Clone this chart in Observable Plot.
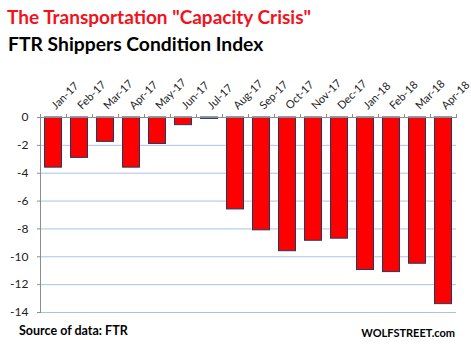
<!DOCTYPE html>
<html>
<head>
<meta charset="utf-8">
<script src="https://cdn.jsdelivr.net/npm/d3@7"></script>
<script src="https://cdn.jsdelivr.net/npm/@observablehq/plot@0.6"></script>
<style>
  html, body { margin: 0; padding: 0; background: #fff; }
  #wrap { position: relative; width: 471px; height: 355px; font-family: Lato, "Open Sans", sans-serif; overflow: hidden; }
  #title { position: absolute; left: 7px; top: 5px; font-size: 19px; font-weight: bold; color: #f2121b; white-space: nowrap; }
  #subtitle { position: absolute; left: 8px; top: 32px; font-size: 19.3px; font-weight: bold; color: #000; white-space: nowrap; }
  #chart { position: absolute; left: 0; top: 60px; }
  #source { position: absolute; left: 19px; top: 323px; font-size: 12.5px; font-weight: bold; color: #000; }
  #brand { position: absolute; right: 16px; top: 326px; font-size: 11px; font-weight: bold; color: #000; }
</style>
</head>
<body>
<div id="wrap">
  <div id="title">The Transportation "Capacity Crisis"</div>
  <div id="subtitle">FTR Shippers Condition Index</div>
  <div id="chart"></div>
  <div id="source">Source of data: FTR</div>
  <div id="brand">WOLFSTREET.com</div>
</div>
<script>
const months = ["Jan-17","Feb-17","Mar-17","Apr-17","May-17","Jun-17","Jul-17","Aug-17","Sep-17","Oct-17","Nov-17","Dec-17","Jan-18","Feb-18","Mar-18","Apr-18"];
const values = [-3.6,-2.9,-1.75,-3.6,-1.9,-0.55,-0.1,-6.6,-8.1,-9.6,-8.85,-8.7,-10.95,-11.1,-10.5,-13.4];
const yTicks = [0,-2,-4,-6,-8,-10,-12,-14];
const gridTicks = [-2,-4,-6,-8,-10,-12,-14];

const data = months.map((m, i) => ({month: m, value: values[i]}));
const lastMonth = [months[months.length - 1]];

const chart = Plot.plot({
  width: 471,
  height: 257,
  marginTop: 57,
  marginBottom: 5,
  marginLeft: 40,
  marginRight: 15,
  style: {fontFamily: "Lato, 'Open Sans', sans-serif", fontSize: "12px", color: "#222", background: "transparent", overflow: "visible"},
  x: {domain: months, padding: 0, axis: null, label: null},
  y: {domain: [-14, 0], axis: null, label: null},
  marks: [
    Plot.ruleY(gridTicks, {stroke: "#a9c3e6", strokeWidth: 1}),
    Plot.barY(data, {x: "month", y: "value", fill: "#ff0000", stroke: "#1f3a60", strokeWidth: 1, insetLeft: 4.5, insetRight: 4.5}),
    Plot.ruleY([0], {stroke: "#8c8c8c", strokeWidth: 1}),
    Plot.frame({anchor: "left", stroke: "#8c8c8c"}),
    Plot.axisY({ticks: yTicks, tickSize: 3, tickPadding: 9, tickFormat: d => String(d), stroke: "#8c8c8c", fill: "#222", fontSize: 12, label: null}),
    Plot.axisX({anchor: "top", ticks: months, tickSize: 4, dx: -13, text: null, stroke: "#8c8c8c", label: null}),
    Plot.axisX(lastMonth, {anchor: "top", tickSize: 4, dx: 13, text: null, stroke: "#8c8c8c", label: null}),
    Plot.axisX({anchor: "top", tickSize: 0, tickPadding: 10, tickRotate: -45, fill: "#222", fontSize: 11, label: null})
  ]
});
document.getElementById("chart").appendChild(chart);
</script>
</body>
</html>
